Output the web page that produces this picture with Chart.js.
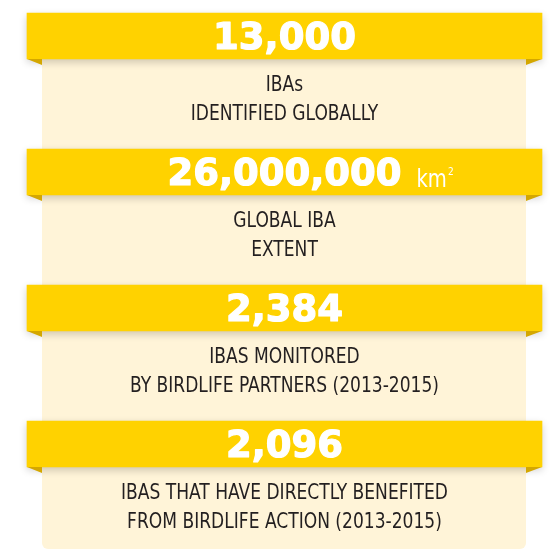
<!DOCTYPE html>
<html>
<head>
<meta charset="utf-8">
<script src="https://cdn.jsdelivr.net/npm/chart.js@4/dist/chart.umd.min.js"></script>
<style>
  html, body { margin: 0; padding: 0; background: #ffffff; }
  #wrap { position: relative; width: 559px; height: 549px; }
</style>
</head>
<body>
<div id="wrap"><canvas id="ibaChart"></canvas></div>
<script>
// Key figures shown on the ribbons
const figures = ['13,000', '26,000,000', '2,384', '2,096'];
const figureUnits = ['', 'km', '', ''];
const unitPowers = ['', '2', '', ''];
// Captions under each ribbon (two lines)
const captionTop = ['IBAs', 'GLOBAL IBA', 'IBAS MONITORED', 'IBAS THAT HAVE DIRECTLY BENEFITED'];
const captionBottom = ['IDENTIFIED GLOBALLY', 'EXTENT', 'BY BIRDLIFE PARTNERS (2013-2015)', 'FROM BIRDLIFE ACTION (2013-2015)'];
// Each ribbon spans the full width of the card
const ribbonSpan = [1, 1, 1, 1];

const YELLOW = '#ffd200';
const FOLD = '#d4a700';
const CREAM = '#fff4d8';
const INK = '#231f20';
const NARROW = '"Liberation Sans Narrow", "DejaVu Sans Condensed", sans-serif';
const SQUEEZE = 0.905; // condensed look for the caption font

// draw text squeezed horizontally around x
function narrowText(ctx, text, x, y) {
  ctx.save();
  ctx.translate(x, y);
  ctx.scale(SQUEEZE, 1);
  ctx.fillText(text, 0, 0);
  ctx.restore();
}

// Draws the card behind the ribbons, the folds, and all the texts
const ribbonDecor = {
  id: 'ribbonDecor',
  beforeDatasetsDraw(chart) {
    const ctx = chart.ctx;
    const first = chart.getDatasetMeta(0).data[0];
    const left = first.base + 15;
    const right = first.x - 16;

    // cream card
    ctx.save();
    ctx.fillStyle = CREAM;
    ctx.beginPath();
    ctx.roundRect(left, first.y, right - left, chart.height - first.y, [0, 0, 6, 6]);
    ctx.fill();
    ctx.restore();
  },
  beforeDatasetDraw(chart) {
    // soft drop shadow under the ribbons
    chart.ctx.save();
    chart.ctx.shadowColor = 'rgba(0, 0, 0, 0.2)';
    chart.ctx.shadowBlur = 8;
    chart.ctx.shadowOffsetY = 3;
  },
  afterDatasetDraw(chart) {
    chart.ctx.restore();
  },
  afterDatasetsDraw(chart) {
    const ctx = chart.ctx;
    const bars = chart.getDatasetMeta(0).data;
    ctx.save();

    // folded ends of every ribbon
    ctx.fillStyle = FOLD;
    bars.forEach(bar => {
      const bottom = bar.y + bar.height / 2;
      const left = bar.base + 15;
      const right = bar.x - 16;
      ctx.beginPath();
      ctx.moveTo(bar.base, bottom);
      ctx.lineTo(left, bottom);
      ctx.lineTo(left, bottom + 6);
      ctx.closePath();
      ctx.fill();
      ctx.beginPath();
      ctx.moveTo(bar.x, bottom);
      ctx.lineTo(right, bottom);
      ctx.lineTo(right, bottom + 6);
      ctx.closePath();
      ctx.fill();
    });

    bars.forEach((bar, i) => {
      const cx = (bar.base + bar.x) / 2;
      const bottom = bar.y + bar.height / 2;

      // big figure
      ctx.fillStyle = '#ffffff';
      ctx.strokeStyle = '#ffffff';
      ctx.lineWidth = 1.2;
      ctx.lineJoin = 'round';
      ctx.textAlign = 'center';
      ctx.textBaseline = 'alphabetic';
      ctx.font = 'bold 37px "DejaVu Sans", sans-serif';
      ctx.fillText(figures[i], cx, bar.y + 13);
      ctx.strokeText(figures[i], cx, bar.y + 13);

      if (figureUnits[i]) {
        const half = ctx.measureText(figures[i]).width / 2;
        ctx.textAlign = 'left';
        ctx.font = '24px ' + NARROW;
        const ux = cx + half + 15;
        narrowText(ctx, figureUnits[i], ux, bar.y + 15);
        const uw = ctx.measureText(figureUnits[i]).width * SQUEEZE;
        ctx.font = '11px ' + NARROW;
        narrowText(ctx, unitPowers[i], ux + uw + 1, bar.y + 3);
      }

      // captions
      ctx.fillStyle = INK;
      ctx.textAlign = 'center';
      ctx.font = '21px ' + NARROW;
      narrowText(ctx, captionTop[i], cx, bottom + 32);
      narrowText(ctx, captionBottom[i], cx, bottom + 61);
    });
    ctx.restore();
  }
};

const ctx = document.getElementById('ibaChart').getContext('2d');

new Chart(ctx, {
  type: 'bar',
  data: {
    labels: figures,
    datasets: [
      {
        data: ribbonSpan,
        backgroundColor: YELLOW,
        borderWidth: 0,
        barThickness: 46,
        clip: false
      }
    ]
  },
  options: {
    indexAxis: 'y',
    responsive: true,
    maintainAspectRatio: false,
    animation: false,
    layout: {
      padding: { left: 27, right: 17, top: 36, bottom: 105 }
    },
    scales: {
      x: { display: false, min: 0, max: 1 },
      y: { display: false, offset: false }
    },
    plugins: {
      legend: { display: false },
      tooltip: { enabled: false }
    }
  },
  plugins: [ribbonDecor]
});
</script>
</body>
</html>
